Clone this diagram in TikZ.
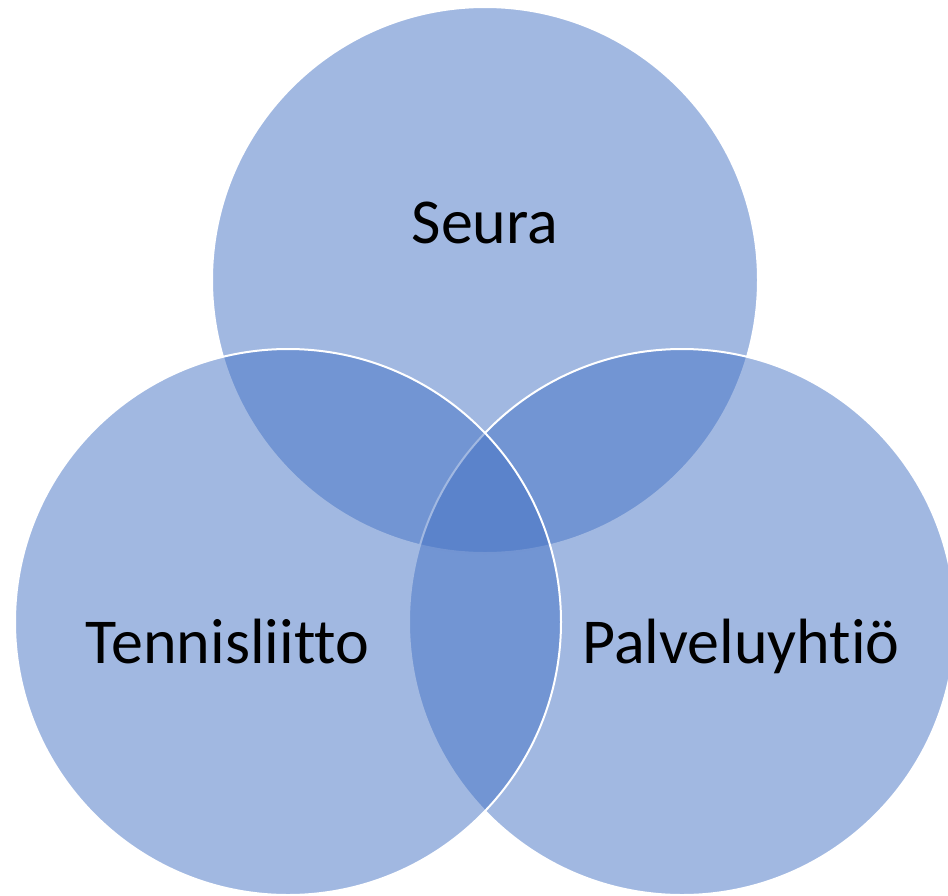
\documentclass[tikz,border=0pt]{standalone}
\usepackage{fontspec}
\setmainfont[RawFeature={-liga;-clig;-dlig}]{Carlito}
\definecolor{accentblue}{HTML}{4472C4}
\tikzset{
  venn/.style={circle, draw=white, line width=2pt, fill=accentblue, fill opacity=0.5, inner sep=0pt, minimum size=546pt},
  lbl/.style={anchor=base, text=black, text opacity=1, font=\fontsize{64}{70}\selectfont, inner sep=0pt}
}
\begin{document}
\begin{tikzpicture}[x=1pt,y=-1pt]
\useasboundingbox (0,0) rectangle (948,895);
\node[venn] (seura) at (485,280) {};
\node[venn] (palvelu) at (682,622) {};
\node[venn] (tennis) at (288,622) {};
\node[lbl] (tseura) at (485,243) {Seura};
\node[lbl] (ttennis) at (227.5,663) {Tennisliitto};
\node[lbl] (tpalvelu) at (741,663) {Palveluyhtiö};
\end{tikzpicture}
\end{document}
